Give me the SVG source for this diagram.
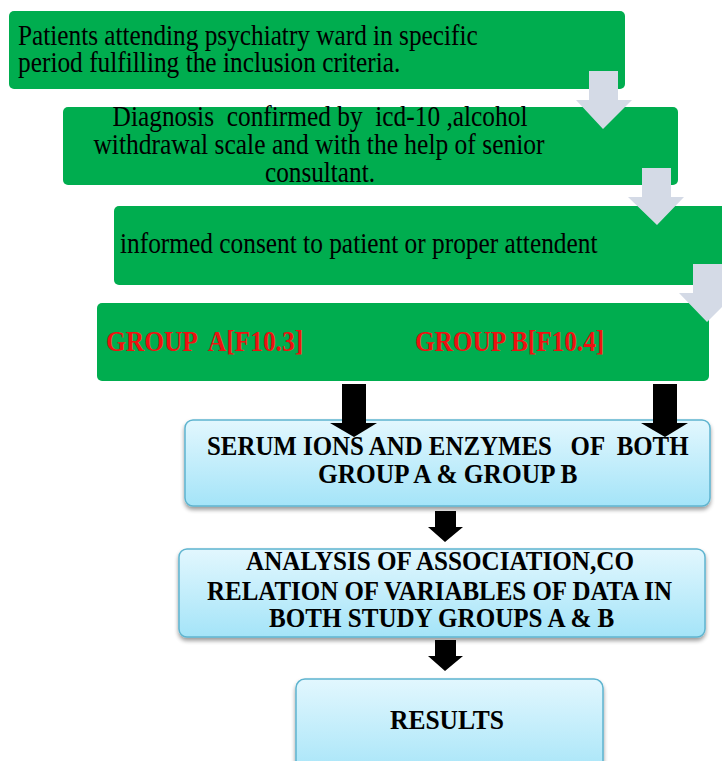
<svg xmlns="http://www.w3.org/2000/svg" width="722" height="761" viewBox="0 0 722 761">
<defs>
<linearGradient id="blue" x1="0" y1="0" x2="0" y2="1">
<stop offset="0" stop-color="#e2f7fe"/>
<stop offset="1" stop-color="#a4e4f8"/>
</linearGradient>
<filter id="sh" x="-5%" y="-10%" width="110%" height="130%">
<feGaussianBlur in="SourceAlpha" stdDeviation="2"/>
<feOffset dx="0" dy="3"/>
<feComponentTransfer><feFuncA type="linear" slope="0.4"/></feComponentTransfer>
<feMerge><feMergeNode/><feMergeNode in="SourceGraphic"/></feMerge>
</filter>
</defs>
<style>
.g{fill:#00ad4f;}
.b{fill:url(#blue);stroke:#5eb4cf;stroke-width:1.5;filter:url(#sh);}
.ga{fill:#d4dae6;}
.ba{fill:#000;}
.gt{font-family:'Liberation Serif','Times New Roman',serif;font-size:29px;fill:#000;}
.rt{font-family:'Liberation Serif','Times New Roman',serif;font-size:29px;font-weight:bold;fill:#ee1111;}
.bt{font-family:'Liberation Serif','Times New Roman',serif;font-size:27px;font-weight:bold;fill:#000;}
</style>
<rect width="722" height="761" fill="#fff"/>
<g id="node1">
<rect class="g" x="9" y="11" width="616" height="78" rx="5"/>
<text class="gt" transform="translate(18 45) scale(0.872 1)">Patients attending psychiatry ward in specific</text>
<text class="gt" transform="translate(18 72) scale(0.875 1)">period fulfilling the inclusion criteria.</text>
</g>
<g id="node2">
<rect class="g" x="63" y="107" width="615" height="78" rx="5"/>
<text class="gt" text-anchor="middle" xml:space="preserve" transform="translate(320 126) scale(0.875 1)">Diagnosis  confirmed by  icd-10 ,alcohol</text>
<text class="gt" text-anchor="middle" transform="translate(319 154) scale(0.88 1)">withdrawal scale and with the help of senior</text>
<text class="gt" text-anchor="middle" transform="translate(320 182) scale(0.87 1)">consultant.</text>
</g>
<g id="node3">
<rect class="g" x="114" y="206" width="620" height="79" rx="5"/>
<text class="gt" transform="translate(120 253) scale(0.875 1)">informed consent to patient or proper attendent</text>
</g>
<g id="node4">
<rect class="g" x="97" y="303" width="612" height="78" rx="5"/>
<text class="rt" xml:space="preserve" transform="translate(106 351) scale(0.878 1)">GROUP  A[F10.3]</text>
<text class="rt" transform="translate(415 351) scale(0.87 1)">GROUP B[F10.4]</text>
</g>
<g id="node5">
<rect class="b" x="185" y="420" width="525" height="86" rx="8"/>
<text class="bt" xml:space="preserve" transform="translate(207 455) scale(0.922 1)">SERUM IONS AND ENZYMES   OF  BOTH</text>
<text class="bt" transform="translate(318 483) scale(0.94 1)">GROUP A &amp; GROUP B</text>
</g>
<g id="node6">
<rect class="b" x="179" y="549" width="526" height="88" rx="8"/>
<text class="bt" transform="translate(246 570) scale(0.931 1)">ANALYSIS OF ASSOCIATION,CO</text>
<text class="bt" transform="translate(207 600) scale(0.924 1)">RELATION OF VARIABLES OF DATA IN</text>
<text class="bt" transform="translate(269 627) scale(0.929 1)">BOTH STUDY GROUPS A &amp; B</text>
</g>
<g id="node7">
<rect class="b" x="296" y="679" width="307" height="100" rx="9"/>
<text class="bt" transform="translate(390 729) scale(0.945 1)">RESULTS</text>
</g>
<g id="connectors">
<polygon class="ga" points="589,71 618,71 618,100 632,100 603,129 576,100 589,100"/>
<polygon class="ga" points="642,168 671,168 671,197 684,197 657,225 628,197 642,197"/>
<polygon class="ga" points="693,264 722,264 722,293 736,293 707,322 679,293 693,293"/>
<polygon class="ba" points="342,384 366,384 366,423 377,423 354,437 330,423 342,423"/>
<polygon class="ba" points="653,384 677,384 677,423 688,423 665,437 641,423 653,423"/>
<polygon class="ba" points="435,511 456,511 456,527 463,527 445,542 428,527 435,527"/>
<polygon class="ba" points="435,640 456,640 456,656 463,656 445,671 428,656 435,656"/>
</g>
</svg>
